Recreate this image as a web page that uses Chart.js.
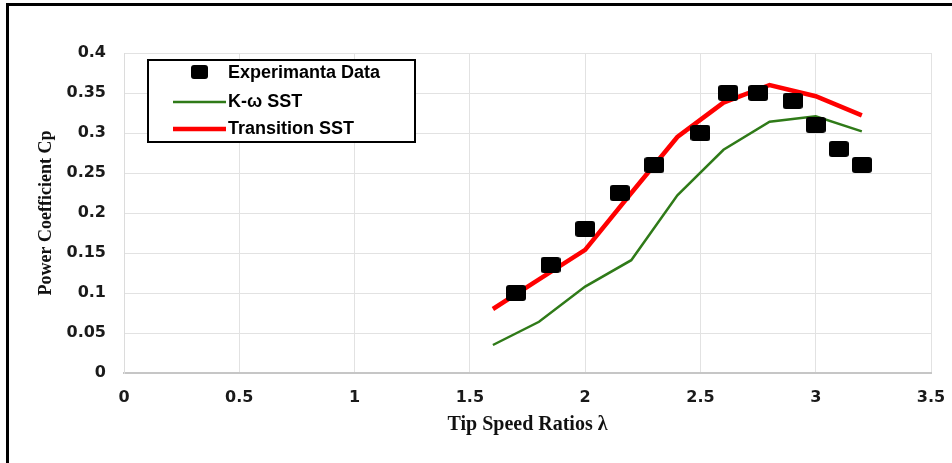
<!DOCTYPE html>
<html>
<head>
<meta charset="utf-8">
<script src="https://cdn.jsdelivr.net/npm/chart.js@4.4.1/dist/chart.umd.min.js"></script>
<style>
    html, body { margin: 0; padding: 0; background: #fff; }
    #wrap { position: relative; width: 952px; height: 463px; }
    #frame {
        position: absolute; left: 6px; top: 3px; right: -10px; bottom: -10px;
        border-left: 3px solid #000; border-top: 3px solid #000;
        pointer-events: none;
    }
</style>
</head>
<body>
<div id="wrap">
    <canvas id="cpChart" width="952" height="463"></canvas>
    <div id="frame"></div>
</div>
<script>
// Experimental points
const expTsr = [1.7, 1.85, 2.0, 2.15, 2.3, 2.5, 2.62, 2.75, 2.9, 3.0, 3.1, 3.2];
const expCp = [0.1, 0.135, 0.18, 0.225, 0.26, 0.3, 0.35, 0.35, 0.34, 0.31, 0.28, 0.26];

// CFD results
const cfdTsr = [1.6, 1.8, 2.0, 2.2, 2.4, 2.6, 2.8, 3.0, 3.2];
const kwSstCp = [0.035, 0.064, 0.108, 0.141, 0.222, 0.279, 0.314, 0.321, 0.302];
const transSstCp = [0.08, 0.117, 0.154, 0.225, 0.295, 0.338, 0.36, 0.346, 0.322];

const seriesNames = ['Experimanta Data', 'K-\u03c9 SST', 'Transition SST'];

function toPoints(xs, ys) {
    return xs.map((x, i) => ({ x: x, y: ys[i] }));
}

// 0.40 -> "0.4", 1.0 -> "1"
function shortNum(value) {
    return String(parseFloat(value.toFixed(2)));
}

// slightly rounded black rectangle used as the marker
function makeMarker(w, h, r) {
    const c = document.createElement('canvas');
    c.width = w; c.height = h;
    const g = c.getContext('2d');
    g.fillStyle = '#000';
    g.beginPath();
    g.roundRect(0, 0, w, h, r);
    g.fill();
    return c;
}
const marker = makeMarker(20, 16, 3);

// legend box drawn inside the plot, like the original
const boxLegend = {
    id: 'boxLegend',
    afterDraw(chart) {
        const ctx = chart.ctx;
        const ds = chart.data.datasets;
        ctx.save();
        ctx.strokeStyle = '#000';
        ctx.lineWidth = 2;
        ctx.fillStyle = '#fff';
        ctx.fillRect(148, 60, 267, 82);
        ctx.strokeRect(148, 60, 267, 82);

        ctx.font = 'bold 18px "Liberation Sans", Arial, sans-serif';
        ctx.textBaseline = 'middle';
        ctx.fillStyle = '#000';

        // marker row
        ctx.beginPath();
        ctx.roundRect(191, 65, 17, 14, 3);
        ctx.fill();
        ctx.fillText(ds[0].label, 228, 73);

        // line rows
        [[1, 102], [2, 129]].forEach(([i, y]) => {
            ctx.strokeStyle = ds[i].borderColor;
            ctx.lineWidth = ds[i].borderWidth;
            ctx.beginPath();
            ctx.moveTo(173, y);
            ctx.lineTo(226, y);
            ctx.stroke();
            ctx.fillStyle = '#000';
            ctx.fillText(ds[i].label, 228, y);
        });
        ctx.restore();
    }
};

const tickFont = { family: '"DejaVu Sans", Verdana, sans-serif', size: 16, weight: 'bold' };

const ctx = document.getElementById('cpChart').getContext('2d');
new Chart(ctx, {
    type: 'scatter',
    data: {
        datasets: [
            {
                label: seriesNames[0],
                data: toPoints(expTsr, expCp),
                pointStyle: marker,
                pointRadius: 10,
                showLine: false
            },
            {
                label: seriesNames[1],
                data: toPoints(cfdTsr, kwSstCp),
                showLine: true,
                borderColor: '#2f7a18',
                borderWidth: 2.5,
                pointRadius: 0,
                fill: false
            },
            {
                label: seriesNames[2],
                data: toPoints(cfdTsr, transSstCp),
                showLine: true,
                borderColor: '#ff0000',
                borderWidth: 4.5,
                pointRadius: 0,
                fill: false
            }
        ]
    },
    options: {
        responsive: false,
        animation: false,
        layout: { padding: { left: 32, right: 21, top: 53, bottom: 22 } },
        plugins: {
            legend: { display: false },
            tooltip: { enabled: false }
        },
        scales: {
            x: {
                type: 'linear',
                min: 0,
                max: 3.5,
                ticks: {
                    stepSize: 0.5,
                    color: '#1a1a1a',
                    padding: 15,
                    callback: shortNum,
                    font: tickFont
                },
                grid: { color: '#e2e2e2', lineWidth: 1, drawTicks: false },
                border: { color: '#c6c6c6', width: 2 },
                title: {
                    display: true,
                    text: 'Tip Speed Ratios \u03bb',
                    color: '#111',
                    padding: { top: 4 },
                    font: { family: '"Liberation Serif", "Times New Roman", serif', size: 20, weight: 'bold' }
                },
                afterFit: function(scale) {
                    scale.height = 68;
                    scale.paddingLeft = 0;
                    scale.paddingRight = 0;
                }
            },
            y: {
                min: 0,
                max: 0.4,
                ticks: {
                    stepSize: 0.05,
                    color: '#1a1a1a',
                    padding: 18,
                    callback: shortNum,
                    font: tickFont
                },
                grid: { color: '#e2e2e2', lineWidth: 1, drawTicks: false },
                border: { color: '#dcdcdc', width: 1 },
                title: {
                    display: true,
                    text: 'Power Coefficient Cp',
                    color: '#111',
                    padding: { bottom: 4 },
                    font: { family: '"Liberation Serif", "Times New Roman", serif', size: 18, weight: 'bold' }
                },
                afterFit: function(scale) {
                    scale.width = 92;
                    scale.paddingTop = 0;
                    scale.paddingBottom = 0;
                }
            }
        }
    },
    plugins: [boxLegend]
});
</script>
</body>
</html>
